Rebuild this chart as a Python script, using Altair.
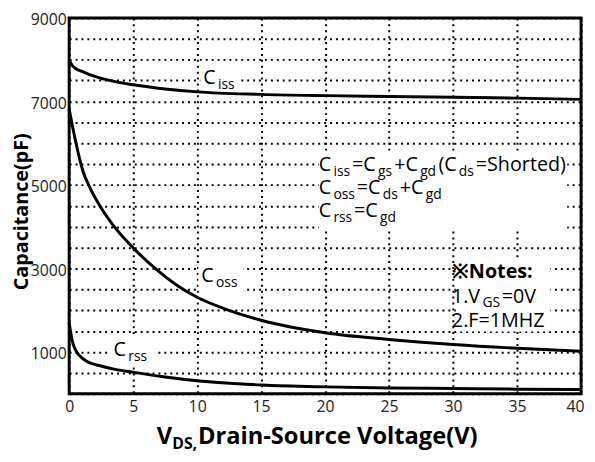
import altair as alt
import pandas as pd

# ---------------- data ----------------
v_iss = [0, 0.2, 0.5, 1, 1.6, 2.3, 3.5, 5, 7.5, 10, 15, 20, 25, 30, 35, 40]
c_iss = [8000, 7880, 7790, 7720, 7640, 7570, 7480, 7400, 7300, 7230, 7170, 7140, 7120, 7100, 7080, 7050]

v_oss = [0, 0.2, 0.57, 1.08, 1.6, 2.36, 3.4, 4.92, 7, 8.9, 10, 12, 15, 20, 25, 30, 35, 40]
c_oss = [6820, 6500, 5950, 5330, 4950, 4520, 4050, 3520, 2930, 2500, 2310, 2050, 1760, 1460, 1300,
         1180, 1090, 1020]

v_rss = [0, 0.1, 0.2, 0.3, 0.5, 0.7, 1.0, 1.3, 1.8, 2.4, 3.5, 4.9, 7.5, 10, 15, 20, 25, 30, 35, 40]
c_rss = [1700, 1500, 1330, 1200, 1050, 950, 860, 790, 720, 670, 590, 520, 400, 310, 210, 165, 140,
         125, 110, 100]

x_ticks = [0, 5, 10, 15, 20, 25, 30, 35, 40]
y_grid = list(range(0, 9001, 500))

# annotation texts: (text, is_subscript)
lbl_iss = [("C", 0), ("iss", 1)]
lbl_oss = [("C", 0), ("oss", 1)]
lbl_rss = [("C", 0), ("rss", 1)]
formula = [
    [("C", 0), ("iss", 1), ("=C", 0), ("gs", 1), ("+C", 0), ("gd", 1), ("(C", 0), ("ds", 1), ("=Shorted)", 0)],
    [("C", 0), ("oss", 1), ("=C", 0), ("ds", 1), ("+C", 0), ("gd", 1)],
    [("C", 0), ("rss", 1), ("=C", 0), ("gd", 1)],
]
notes_title = "※Notes:"
notes = [
    [("1.V", 0), ("GS", 1), ("=0V", 0)],
    [("2.F=1MHZ", 0)],
]
x_title = [("V", 0), ("DS,", 1), (" Drain-Source Voltage(V)", 0)]
y_title = "Capacitance(pF)"

# ---------------- geometry ----------------
W, H = 519, 381
XMAX, YMAX = 40, 9000
FONT = "Open Sans"
MAIN, SUB, SUBDY = 20, 14, 5
GAP = 2.2

WID = {" ": .26, "C": .635, "S": .551, "V": .6, "F": .515, "M": .828, "H": .734, "Z": .559,
       "N": .741, "D": .715, "G": .69, "i": .253, "s": .465, "o": .604, "r": .408, "g": .555,
       "d": .61, "h": .614, "t": .349, "e": .56, "a": .566, "n": .614, "=": .572, "+": .572,
       "(": .288, ")": .288, ".": .266, ":": .266, ",": .25, "-": .322, "l": .253, "u": .614,
       "c": .48, "p": .613, "※": 0.95}


def tw(s, size, bold=False):
    return sum(WID.get(ch, .572) for ch in s) * size * (1.03 if bold else 1.0)


def to_v(px):
    return px / W * XMAX


def to_c(py):
    return YMAX - py / H * YMAX


def layout(segs, x0, base, main=MAIN, sub=SUB, subdy=SUBDY, bold=False, center=False, gap=GAP):
    rows = []
    total = sum(tw(t, sub if s else main, bold) for t, s in segs) + gap * (len(segs) - 1)
    start = x0 - total / 2 if center else x0
    x = start
    for t, s in segs:
        size = sub if s else main
        rows.append({"V": to_v(x), "C": to_c(base + (subdy if s else 0)), "text": t, "size": size})
        x += tw(t, size, bold) + gap
    return rows, start, x


def box(xa, xb, ya, yb):
    return {"V": to_v(xa), "V2": to_v(xb), "C": to_c(ya), "C2": to_c(yb)}


reg_rows, bold_rows, boxes = [], [], []

for segs, (px, py), pad in [(lbl_iss, (136, 67), (3, 4)), (lbl_oss, (134, 268), (3, 4)),
                            (lbl_rss, (45, 343), (4, 6))]:
    r, xa, xb = layout(segs, px, py)
    reg_rows += r
    boxes.append(box(xa - pad[0], xb + pad[1], py - 19, py + 9))

fx, fy = 253, 155
for i, segs in enumerate(formula):
    r, _, _ = layout(segs, fx, fy + i * 23.5)
    reg_rows += r
boxes.append(box(fx, fx + 252, fy - 20, fy + 59))

nx, ny = 388, 264
r, _, _ = layout([(notes_title, 0)], nx, ny, bold=True)
bold_rows += r
for i, segs in enumerate(notes):
    r, _, _ = layout(segs, nx, ny + 24.5 * (i + 1))
    reg_rows += r
boxes.append(box(nx + 4, nx + 100, ny - 20, ny + 54))

r, _, _ = layout(x_title, 249, 432, main=24, sub=16, subdy=5, bold=True, center=True, gap=1)
bold_rows += r

curves = pd.concat([
    pd.DataFrame({"V": v_iss, "C": c_iss, "series": "Ciss"}),
    pd.DataFrame({"V": v_oss, "C": c_oss, "series": "Coss"}),
    pd.DataFrame({"V": v_rss, "C": c_rss, "series": "Crss"}),
])

xs = alt.Scale(domain=[0, XMAX], nice=False, zero=False)
ys = alt.Scale(domain=[0, YMAX], nice=False, zero=False)

x_axis = alt.Axis(
    values=x_ticks, format="d", title=None, ticks=False, domain=False,
    labelFont=FONT, labelFontSize=16, labelColor="#222", labelPadding=5,
    labelFlush=False,
    labelAlign=alt.expr("datum.value == 40 ? 'right' : 'center'"),
    labelOffset=alt.expr("datum.value == 40 ? 3 : 0"),
    grid=True, gridColor="black", gridDash=[2, 4], gridWidth=2, gridOpacity=1)
y_axis = alt.Axis(
    values=y_grid, format="d", title=y_title, ticks=False, domain=False,
    labelExpr="datum.value % 2000 == 1000 ? datum.label : ''",
    labelFont=FONT, labelFontSize=16, labelColor="#222", labelPadding=3, labelOffset=2,
    titleFont=FONT, titleFontSize=20, titleFontWeight="bold", titleColor="black",
    titleX=-48, titleY=196, titleBaseline="middle", titleAlign="center",
    grid=True, gridColor="black", gridDash=[2, 4], gridWidth=2, gridOpacity=1)

X = alt.X("V:Q", scale=xs, axis=x_axis)
Y = alt.Y("C:Q", scale=ys, axis=y_axis)

rects = alt.Chart(pd.DataFrame(boxes)).mark_rect(fill="white").encode(
    x=X, x2="V2:Q", y=Y, y2="C2:Q",
)

lines = alt.Chart(curves).mark_line(color="black", strokeWidth=3, interpolate="monotone").encode(
    x=X, y=Y, detail="series:N",
)

txt = alt.Chart(pd.DataFrame(reg_rows)).mark_text(
    align="left", baseline="alphabetic", font=FONT, color="black").encode(
    x=X, y=Y, text="text:N", size=alt.Size("size:Q", scale=None, legend=None),
)

btxt = alt.Chart(pd.DataFrame(bold_rows)).mark_text(
    align="left", baseline="alphabetic", font=FONT, fontWeight="bold", color="black").encode(
    x=X, y=Y, text="text:N", size=alt.Size("size:Q", scale=None, legend=None),
)

chart = alt.layer(rects, lines, txt, btxt).properties(
    width=W, height=H,
    autosize=alt.AutoSizeParams(type="none"),
    padding={"left": 62, "top": 7, "right": 6, "bottom": 58},
).configure_view(stroke="black", strokeWidth=3)

chart.save("out.html", embed_options={"renderer": "svg", "actions": False})
